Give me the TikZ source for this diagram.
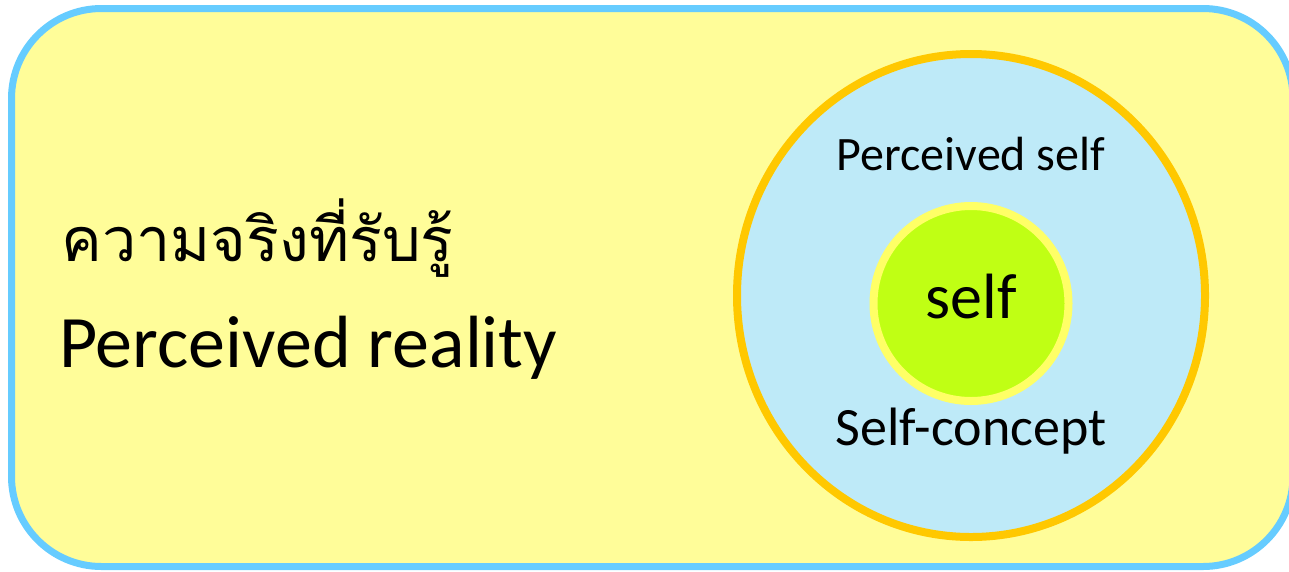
\documentclass[tikz,border=0pt]{standalone}
\usepackage{fontspec}
\setmainfont{Carlito}
\newfontfamily\thaifont[Script=Thai]{Loma}
\definecolor{realityfill}{HTML}{FFFD99}
\definecolor{realityline}{HTML}{66CCFF}
\definecolor{perceivedfill}{HTML}{BEEAF8}
\definecolor{perceivedline}{HTML}{FFC800}
\definecolor{selfring}{HTML}{FFFF66}
\definecolor{selffill}{HTML}{C0FF14}
\begin{document}
\begin{tikzpicture}[x=1pt, y=-1pt, every node/.style={inner sep=0pt, text=black}]
  \useasboundingbox (0,0) rectangle (1289,571);
  % outer area: perceived reality
  \draw[line width=7pt, realityline, fill=realityfill, rounded corners=90pt] (11.5,8.5) rectangle (1293,566.5);
  \node[anchor=base west, font=\thaifont\fontsize{61}{73}\selectfont] (thai) at (61,261) {ความจริงที่รับรู้};
  \node[anchor=base west, font=\fontsize{74}{89}\selectfont] (reality) at (59,367) {Perceived reality};
  % perceived self
  \draw[line width=8pt, perceivedline, fill=perceivedfill] (971,295.5) ellipse [x radius=234, y radius=241.5];
  \node[anchor=base, font=\fontsize{48}{58}\selectfont] (pself) at (971,170) {Perceived self};
  \node[anchor=base, font=\fontsize{54}{65}\selectfont] (concept) at (971,445) {Self-concept};
  % self
  \draw[line width=8pt, selfring, fill=selffill] (971,303.5) circle [radius=97.5];
  \node[anchor=base, font=\fontsize{64}{77}\selectfont] (self) at (971,318) {self};
\end{tikzpicture}
\end{document}
